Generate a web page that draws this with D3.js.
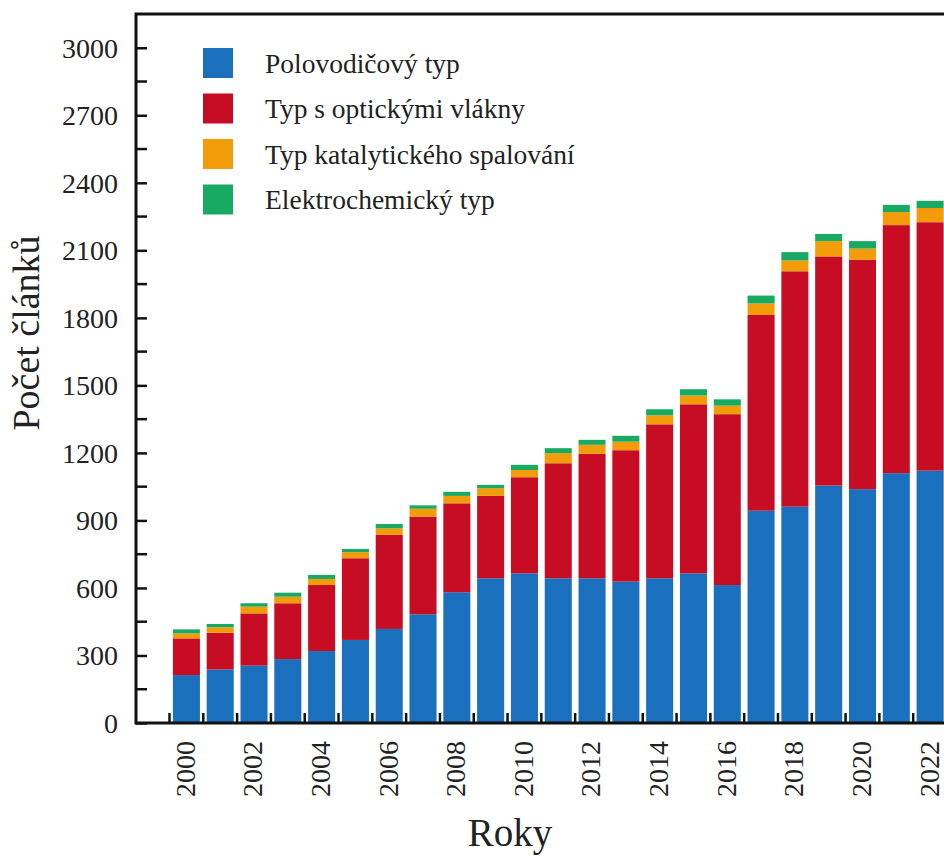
<!DOCTYPE html>
<html>
<head>
<meta charset="utf-8">
<script src="https://cdn.jsdelivr.net/npm/d3@7"></script>
<style>
  body { margin: 0; background: #fff; }
  svg text { font-family: "Liberation Serif", "Times New Roman", serif; fill: #222; }
</style>
</head>
<body>
<svg id="chart"></svg>
<script>
// data
var years = d3.range(2000, 2023);
var polovodic = [213, 238, 255, 284, 320, 369, 418, 483, 581, 643, 665, 643, 643, 628, 643, 665, 613, 943, 961, 1055, 1039, 1110, 1121];
var opticka   = [163, 163, 232, 248, 293, 363, 418, 434, 395, 366, 427, 511, 553, 584, 684, 751, 759, 870, 1046, 1018, 1019, 1102, 1104];
var katalyt   = [22, 24, 30, 29, 27, 27, 29, 35, 33, 34, 32, 45, 40, 38, 40, 39, 38, 51, 48, 68, 50, 58, 63];
var elektro   = [18, 15, 15, 18, 18, 14, 19, 15, 18, 15, 23, 22, 22, 26, 27, 28, 28, 35, 37, 32, 33, 32, 32];
var seriesNames = ['Polovodičový typ', 'Typ s optickými vlákny', 'Typ katalytického spalování', 'Elektrochemický typ'];
var seriesColors = ['#1a70bd', '#c70d24', '#f39c0a', '#18aa62'];
var yTicks = d3.range(0, 3001, 300);
var yMinorTicks = d3.range(150, 3001, 300);

var width = 944, height = 856;

var svg = d3.select('#chart')
    .attr('width', width)
    .attr('height', height);

// build rows for the stack
var keys = ['a', 'b', 'c', 'd'];
var rows = years.map(function(y, i) {
    return { year: y, a: polovodic[i], b: opticka[i], c: katalyt[i], d: elektro[i] };
});
var stacked = d3.stack().keys(keys)(rows);

var x = d3.scaleBand()
    .domain(years)
    .range([169.5, 947])
    .paddingInner(0.2)
    .paddingOuter(0.1);

var y = d3.scaleLinear()
    .domain([0, 3150])
    .range([723, 14]);

var left = 136;

// bars
var layer = svg.append('g')
    .selectAll('g')
    .data(stacked)
    .enter().append('g')
    .attr('fill', function(d, i) { return seriesColors[i]; });

layer.selectAll('rect')
    .data(function(d) { return d; })
    .enter().append('rect')
    .attr('x', function(d) { return x(d.data.year); })
    .attr('width', x.bandwidth())
    .attr('y', function(d) { return y(d[1]); })
    .attr('height', function(d) { return y(d[0]) - y(d[1]); });

// y axis (ticks pointing inward)
var yAxis = svg.append('g')
    .attr('transform', 'translate(' + left + ',0)')
    .call(d3.axisRight(y).tickValues(yTicks).tickSize(11).tickFormat(''));
yAxis.select('.domain').remove();
yAxis.selectAll('line').attr('stroke', '#111').attr('stroke-width', 2.5);

svg.append('g')
    .attr('transform', 'translate(' + left + ',0)')
    .selectAll('line')
    .data(yMinorTicks)
    .enter().append('line')
    .attr('x1', 0).attr('x2', 11)
    .attr('y1', function(d) { return y(d); })
    .attr('y2', function(d) { return y(d); })
    .attr('stroke', '#111').attr('stroke-width', 2.5);

svg.append('g')
    .selectAll('text')
    .data(yTicks)
    .enter().append('text')
    .attr('x', 118)
    .attr('y', function(d) { return y(d); })
    .attr('dy', '0.35em')
    .attr('text-anchor', 'end')
    .style('font-size', '28px')
    .text(function(d) { return d; });

// x ticks at band boundaries, pointing up
var step = x.step();
svg.append('g')
    .selectAll('line')
    .data(years)
    .enter().append('line')
    .attr('x1', function(d) { return x(d) - step * 0.1; })
    .attr('x2', function(d) { return x(d) - step * 0.1; })
    .attr('y1', y(0))
    .attr('y2', y(0) - 10)
    .attr('stroke', '#111').attr('stroke-width', 2.5);

svg.append('g')
    .selectAll('text')
    .data(years.filter(function(d) { return d % 2 === 0; }))
    .enter().append('text')
    .attr('transform', function(d) {
        return 'translate(' + (x(d) + x.bandwidth() / 2) + ',741) rotate(-90)';
    })
    .attr('dy', '0.3em')
    .attr('text-anchor', 'end')
    .style('font-size', '28px')
    .text(function(d) { return d; });

// frame: left, bottom, top
svg.append('path')
    .attr('d', 'M' + width + ',' + y(3150) + 'H' + left + 'V' + y(0) + 'H' + width)
    .attr('fill', 'none')
    .attr('stroke', '#111')
    .attr('stroke-width', 3);

// axis titles
svg.append('text')
    .attr('transform', 'translate(39,333) rotate(-90)')
    .attr('text-anchor', 'middle')
    .style('font-size', '38px')
    .text('Počet článků');

svg.append('text')
    .attr('x', 510)
    .attr('y', 846)
    .attr('text-anchor', 'middle')
    .style('font-size', '39px')
    .text('Roky');

// legend
var legend = svg.append('g')
    .selectAll('g')
    .data(seriesNames)
    .enter().append('g')
    .attr('transform', function(d, i) { return 'translate(203,' + (48 + i * 45.5) + ')'; });

legend.append('rect')
    .attr('width', 30)
    .attr('height', 30)
    .attr('fill', function(d, i) { return seriesColors[i]; });

legend.append('text')
    .attr('x', 62)
    .attr('y', 15)
    .attr('dy', '0.35em')
    .style('font-size', '27.5px')
    .text(function(d) { return d; });
</script>
</body>
</html>
